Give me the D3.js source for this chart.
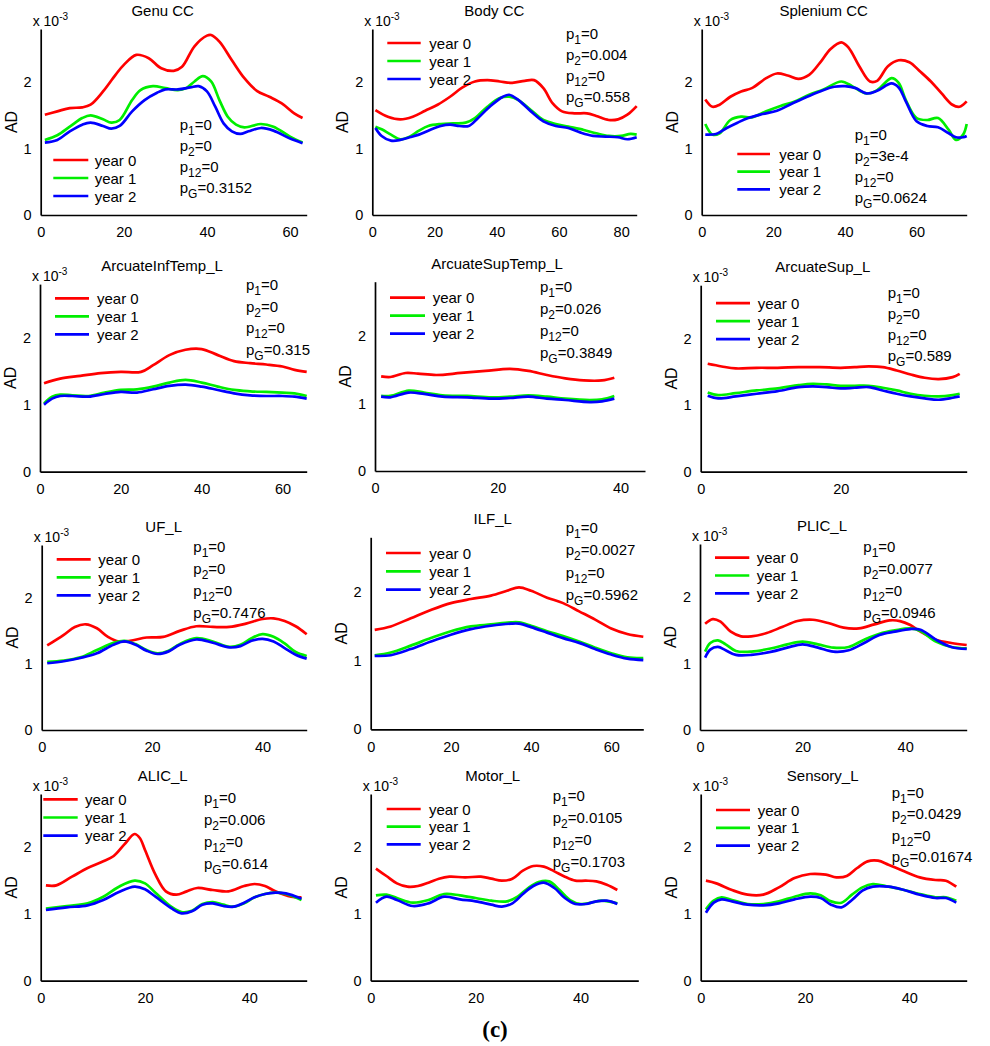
<!DOCTYPE html>
<html><head><meta charset="utf-8">
<script src="https://cdn.jsdelivr.net/npm/d3@7"></script>
<style>body{margin:0;background:#fff}svg{display:block}</style>
</head><body>
<svg id="chart" width="990" height="1046"></svg>
<script>
// ---------- DATA ----------
const titles = ["Genu CC","Body CC","Splenium CC","ArcuateInfTemp_L","ArcuateSupTemp_L","ArcuateSup_L","UF_L","ILF_L","PLIC_L","ALIC_L","Motor_L","Sensory_L"];
const seriesNames = ["year 0","year 1","year 2"];
const seriesColors = ["#ff0000","#00ee00","#0000ff"];
const yTicks = [0,1,2];
const xMaxes = [64,85,74,66,44,38,48,68,52,51,51,51];
const xTicksList = [[0,20,40,60],[0,20,40,60,80],[0,20,40,60],[0,20,40,60],[0,20,40],[0,20],[0,20,40],[0,20,40,60],[0,20,40],[0,20,40],[0,20,40],[0,20,40]];
const pSubs = ["1","2","12","G"];
const pValues = [
 ["0","0","0","0.3152"],["0","0.004","0","0.558"],["0","3e-4","0","0.0624"],
 ["0","0","0","0.315"],["0","0.026","0","0.3849"],["0","0","0","0.589"],
 ["0","0","0","0.7476"],["0","0.0027","0","0.5962"],["0","0.0077","0","0.0946"],
 ["0","0.006","0","0.614"],["0","0.0105","0","0.1703"],["0","0.0429","0","0.01674"]];
const showExponent = [true,true,true,true,false,true,true,false,true,true,true,true];

const genuY0=[[1,1.51],[4,1.56],[7,1.61],[10,1.62],[12,1.66],[15,1.86],[18,2.11],[20,2.26],[23,2.41],[26,2.36],[29,2.21],[32,2.17],[34,2.23],[37,2.54],[40,2.70],[41,2.71],[43,2.61],[46,2.33],[49,2.06],[52,1.87],[55,1.78],[58,1.68],[61,1.53],[63,1.46]];
const genuY1=[[1,1.13],[4,1.20],[7,1.33],[10,1.46],[12,1.50],[15,1.44],[17,1.39],[19,1.43],[22,1.73],[24,1.88],[27,1.94],[30,1.91],[33,1.88],[35,1.91],[37,2.01],[39,2.09],[41,2.01],[43,1.73],[45,1.48],[47,1.36],[49,1.32],[53,1.37],[56,1.33],[60,1.18],[63,1.09]];
const genuY2=[[1,1.09],[4,1.13],[7,1.26],[10,1.36],[12,1.39],[15,1.34],[17,1.30],[19,1.34],[22,1.56],[25,1.73],[28,1.84],[30,1.89],[33,1.89],[36,1.92],[38,1.94],[40,1.86],[42,1.63],[44,1.38],[46,1.26],[48,1.22],[50,1.26],[53,1.31],[56,1.27],[60,1.15],[63,1.08]];

const bodyY0=[[1,1.58],[5,1.48],[9,1.44],[13,1.48],[17,1.57],[21,1.66],[25,1.78],[29,1.92],[33,2.01],[37,2.03],[41,2.01],[45,1.99],[49,2.02],[52,2.03],[55,1.91],[58,1.68],[61,1.56],[65,1.53],[69,1.53],[72,1.49],[76,1.43],[79,1.44],[82,1.51],[85,1.64]];
const bodyY1=[[1,1.33],[3,1.29],[6,1.21],[9,1.14],[12,1.18],[15,1.27],[18,1.34],[22,1.37],[26,1.38],[30,1.39],[33,1.46],[37,1.63],[41,1.76],[44,1.78],[47,1.73],[51,1.58],[55,1.43],[59,1.37],[63,1.33],[68,1.28],[72,1.23],[76,1.19],[80,1.19],[83,1.22],[85,1.21]];
const bodyY2=[[1,1.31],[3,1.19],[6,1.12],[9,1.13],[12,1.17],[15,1.21],[18,1.27],[22,1.34],[25,1.36],[28,1.34],[31,1.34],[34,1.46],[38,1.64],[42,1.78],[44,1.81],[47,1.73],[51,1.56],[55,1.41],[59,1.34],[63,1.31],[67,1.24],[71,1.19],[75,1.18],[79,1.17],[82,1.14],[85,1.17]];

const splY0=[[1,1.74],[3,1.63],[5,1.66],[8,1.78],[11,1.86],[14,1.91],[18,2.06],[21,2.13],[24,2.10],[27,2.05],[30,2.11],[33,2.29],[36,2.50],[39,2.60],[41,2.52],[44,2.24],[47,2.01],[49,2.02],[52,2.24],[55,2.33],[58,2.30],[61,2.16],[64,2.01],[67,1.83],[70,1.66],[72,1.63],[74,1.71]];
const splY1=[[1,1.37],[3,1.21],[5,1.23],[8,1.43],[11,1.48],[14,1.47],[18,1.56],[22,1.64],[26,1.71],[30,1.81],[34,1.89],[39,2.01],[42,1.94],[46,1.83],[49,1.88],[53,2.06],[55,1.99],[57,1.73],[60,1.46],[63,1.43],[66,1.46],[69,1.28],[71,1.13],[73,1.21],[74,1.37]];
const splY2=[[1,1.21],[4,1.22],[7,1.31],[10,1.39],[13,1.46],[17,1.52],[21,1.57],[25,1.67],[29,1.77],[33,1.86],[37,1.93],[40,1.94],[43,1.91],[46,1.83],[49,1.87],[53,1.98],[55,1.92],[57,1.71],[60,1.41],[63,1.34],[66,1.32],[69,1.23],[71,1.17],[73,1.17],[74,1.19]];

const aitY0=[[1,1.32],[5,1.39],[10,1.43],[15,1.47],[20,1.49],[25,1.49],[28,1.59],[32,1.74],[36,1.82],[40,1.83],[44,1.74],[48,1.65],[52,1.62],[56,1.60],[60,1.57],[63,1.52],[66,1.49]];
const aitY1=[[1,1.02],[3,1.12],[5,1.15],[8,1.14],[12,1.13],[16,1.18],[20,1.22],[24,1.23],[28,1.27],[32,1.33],[36,1.37],[40,1.33],[44,1.27],[48,1.22],[52,1.20],[56,1.19],[60,1.18],[63,1.17],[66,1.13]];
const aitY2=[[1,1.00],[3,1.09],[5,1.13],[8,1.13],[12,1.12],[16,1.16],[20,1.19],[24,1.18],[28,1.23],[32,1.28],[36,1.30],[40,1.27],[44,1.22],[48,1.17],[52,1.14],[56,1.13],[60,1.13],[63,1.12],[66,1.09]];

const astY0=[[1,1.40],[2.5,1.39],[5,1.45],[7,1.44],[10,1.42],[14,1.45],[18,1.48],[22,1.51],[25,1.48],[28,1.42],[31,1.37],[34,1.34],[37,1.34],[39,1.38]];
const astY1=[[1,1.11],[2.5,1.11],[5.5,1.19],[8,1.16],[11,1.12],[15,1.11],[19,1.09],[22,1.10],[25,1.12],[28,1.10],[31,1.07],[35,1.05],[37,1.06],[39,1.11]];
const astY2=[[1,1.10],[2.5,1.09],[5.5,1.16],[8,1.14],[11,1.10],[15,1.09],[19,1.07],[22,1.08],[25,1.10],[28,1.07],[31,1.05],[35,1.02],[37,1.03],[39,1.07]];

const asY0=[[1,1.62],[3,1.58],[5,1.55],[8,1.56],[11,1.56],[14,1.57],[17,1.57],[20,1.56],[22,1.57],[24,1.58],[26,1.57],[28,1.52],[30,1.46],[32,1.41],[34,1.39],[36,1.42],[37,1.47]];
const asY1=[[1,1.19],[2.5,1.15],[5,1.18],[8,1.22],[11,1.25],[14,1.30],[16,1.32],[18,1.31],[20,1.29],[22,1.29],[24,1.29],[26,1.26],[28,1.22],[30,1.17],[32,1.14],[34,1.13],[36,1.15],[37,1.17]];
const asY2=[[1,1.14],[2.5,1.10],[5,1.13],[8,1.17],[11,1.21],[14,1.27],[16,1.28],[18,1.27],[20,1.25],[22,1.26],[24,1.27],[26,1.22],[28,1.17],[30,1.13],[32,1.10],[34,1.08],[36,1.11],[37,1.13]];

const ufY0=[[1,1.28],[4,1.44],[6,1.56],[8,1.60],[10,1.54],[12,1.41],[14,1.34],[16,1.35],[19,1.40],[22,1.41],[25,1.50],[28,1.57],[31,1.56],[34,1.56],[37,1.61],[40,1.68],[42,1.69],[44,1.65],[46,1.57],[48,1.45]];
const ufY1=[[1,1.03],[4,1.05],[7,1.10],[10,1.21],[13,1.32],[15,1.35],[17,1.30],[19,1.21],[21,1.16],[23,1.20],[25,1.30],[28,1.39],[31,1.34],[34,1.26],[36,1.29],[38,1.39],[40,1.45],[42,1.41],[44,1.31],[46,1.18],[48,1.12]];
const ufY2=[[1,1.01],[4,1.04],[7,1.09],[10,1.16],[13,1.29],[15,1.34],[17,1.29],[19,1.20],[21,1.15],[23,1.19],[25,1.29],[28,1.37],[31,1.32],[34,1.25],[36,1.27],[38,1.35],[40,1.38],[42,1.34],[44,1.24],[46,1.14],[48,1.08]];

const ilfY0=[[1,1.45],[5,1.50],[10,1.62],[15,1.74],[20,1.84],[25,1.90],[30,1.95],[34,2.02],[37,2.07],[40,2.02],[44,1.92],[48,1.84],[52,1.72],[56,1.60],[60,1.47],[64,1.39],[68,1.35]];
const ilfY1=[[1,1.08],[5,1.12],[10,1.22],[15,1.33],[20,1.43],[25,1.50],[30,1.53],[35,1.56],[37,1.56],[40,1.51],[44,1.43],[48,1.36],[52,1.28],[56,1.19],[60,1.11],[64,1.05],[68,1.04]];
const ilfY2=[[1,1.07],[5,1.08],[10,1.17],[15,1.28],[20,1.38],[25,1.46],[30,1.51],[35,1.54],[37,1.54],[40,1.49],[44,1.41],[48,1.33],[52,1.26],[56,1.17],[60,1.09],[64,1.03],[68,1.01]];

const plicY0=[[1,1.60],[2.5,1.67],[4,1.63],[6,1.48],[8,1.41],[10,1.41],[13,1.46],[16,1.55],[19,1.64],[22,1.66],[25,1.61],[28,1.54],[31,1.53],[34,1.59],[37,1.65],[39,1.64],[41,1.58],[43,1.48],[46,1.36],[49,1.31],[52,1.28]];
const plicY1=[[1,1.18],[2,1.31],[3.5,1.35],[5,1.29],[7,1.19],[10,1.18],[14,1.23],[17,1.29],[20,1.33],[23,1.29],[26,1.24],[29,1.25],[32,1.36],[35,1.45],[38,1.50],[41,1.53],[43,1.49],[46,1.33],[49,1.25],[52,1.23]];
const plicY2=[[1,1.09],[2,1.21],[3.5,1.25],[5,1.20],[7,1.13],[10,1.13],[14,1.18],[17,1.24],[20,1.29],[23,1.24],[26,1.18],[29,1.20],[32,1.31],[35,1.43],[38,1.48],[41,1.52],[43,1.51],[46,1.36],[49,1.25],[52,1.22]];

const alicY0=[[1,1.43],[3,1.43],[6,1.56],[9,1.69],[12,1.79],[14,1.87],[16,2.04],[18,2.20],[19,2.14],[20,1.96],[22,1.59],[24,1.34],[26,1.29],[28,1.34],[30,1.39],[33,1.36],[36,1.34],[39,1.42],[41,1.45],[43,1.42],[45,1.34],[48,1.26],[50,1.25]];
const alicY1=[[1,1.08],[5,1.12],[9,1.16],[12,1.26],[15,1.41],[18,1.50],[20,1.46],[22,1.32],[25,1.11],[27,1.03],[29,1.05],[31,1.15],[33,1.18],[35,1.14],[37,1.11],[39,1.16],[41,1.25],[43,1.30],[45,1.32],[47,1.30],[50,1.21]];
const alicY2=[[1,1.06],[5,1.10],[9,1.13],[12,1.21],[15,1.33],[18,1.41],[20,1.37],[22,1.26],[25,1.09],[27,1.01],[29,1.04],[31,1.14],[33,1.16],[35,1.12],[37,1.11],[39,1.17],[41,1.25],[43,1.30],[45,1.32],[47,1.31],[50,1.23]];

const motY0=[[1,1.68],[3,1.57],[5,1.46],[7,1.41],[9,1.42],[11,1.47],[13,1.53],[15,1.56],[18,1.55],[21,1.56],[23,1.53],[25,1.50],[27,1.53],[29,1.65],[31,1.72],[33,1.71],[35,1.64],[37,1.56],[39,1.50],[41,1.50],[43,1.49],[45,1.44],[47,1.36]];
const motY1=[[1,1.28],[3,1.29],[5,1.24],[8,1.17],[11,1.21],[14,1.30],[17,1.28],[20,1.24],[23,1.20],[26,1.19],[28,1.26],[30,1.39],[32,1.48],[34,1.49],[36,1.36],[38,1.21],[40,1.15],[42,1.17],[44,1.20],[47,1.16]];
const motY2=[[1,1.17],[3,1.26],[5,1.21],[8,1.12],[11,1.16],[14,1.26],[17,1.22],[20,1.19],[23,1.14],[25,1.11],[27,1.16],[29,1.30],[31,1.42],[33,1.47],[35,1.39],[37,1.24],[39,1.15],[41,1.15],[43,1.19],[45,1.20],[47,1.15]];

const senY0=[[1,1.50],[3,1.46],[6,1.36],[9,1.29],[12,1.29],[15,1.40],[18,1.54],[21,1.60],[24,1.59],[26,1.55],[28,1.57],[30,1.69],[32,1.79],[34,1.80],[36,1.74],[39,1.64],[42,1.55],[45,1.51],[47,1.50],[49,1.41]];
const senY1=[[1,1.07],[2.5,1.20],[4,1.25],[6,1.21],[9,1.15],[12,1.15],[15,1.19],[18,1.26],[21,1.31],[23,1.28],[25,1.19],[27,1.17],[29,1.29],[31,1.40],[33,1.45],[36,1.41],[39,1.36],[42,1.30],[45,1.25],[47,1.25],[49,1.20]];
const senY2=[[1,1.02],[2.5,1.17],[4,1.22],[6,1.19],[9,1.14],[12,1.13],[15,1.16],[18,1.22],[21,1.26],[23,1.24],[25,1.14],[27,1.10],[29,1.21],[31,1.35],[33,1.41],[36,1.41],[39,1.36],[42,1.29],[45,1.24],[47,1.24],[49,1.17]];

const panelSeries = [
 [genuY0,genuY1,genuY2],[bodyY0,bodyY1,bodyY2],[splY0,splY1,splY2],
 [aitY0,aitY1,aitY2],[astY0,astY1,astY2],[asY0,asY1,asY2],
 [ufY0,ufY1,ufY2],[ilfY0,ilfY1,ilfY2],[plicY0,plicY1,plicY2],
 [alicY0,alicY1,alicY2],[motY0,motY1,motY2],[senY0,senY1,senY2]];

// ---------- LAYOUT (pixels) ----------
// [left, bottom, width, height]
const frames = [
 [40.7,215,266,186],[372.3,215,264.4,186],[701.7,215,265,186],
 [40,471.7,266.7,187.6],[375,471,270,189.3],[700.7,471.7,266,186.5],
 [41.7,730,265,185],[370.7,729.3,272.6,192],[700,730,266.7,186],
 [40.7,980.7,266,186.7],[370.7,980.7,267.6,186.7],[700.7,980.7,266,186.7]];
// legend: [lineStartDx, lineEndDx, textDx, firstRowDyFromTop, rowGap]
const legendPos = [
 [12.6,47.6,54,131,18],[15,48.4,57,14,18],[35.6,68.3,77.6,125,17.7],
 [15,49,57,14.3,18],[15,50,57.7,16,18],[15.3,49.3,57,18,18],
 [15,49,56.6,14.3,18],[15.3,50,58.6,15.7,18.3],[15,49.3,56.7,13.7,17.8],
 [2.6,37,44.3,5.3,18.2],[16,50,58.3,15,17.7],[15.3,49.3,57,16,17.8]];
// p-values: [textDx, firstBaselineDyFromTop, rowGap]
const pPos = [
 [139,101,21],[193.7,9.5,21],[153,111,21],
 [206,6,21.5],[165,10,22],[187,13,21],
 [151.6,6.5,22],[195,-4.5,22.5],[163.3,8,22],
 [163.3,9,22],[182,6.5,22],[191,4,21.3]];

const FONT = "'Liberation Sans', Arial, Helvetica, sans-serif";
const svg = d3.select("#chart").style("font-family", FONT);

panelSeries.forEach((series, i) => {
  const [left, bottom, w, h] = frames[i];
  const top = bottom - h;
  const g = svg.append("g");
  const x = d3.scaleLinear().domain([0, xMaxes[i]]).range([left, left + w]);
  const y = d3.scaleLinear().domain([0, 2.8]).range([bottom, top]);

  const xAxis = g.append("g").attr("transform", `translate(0,${bottom})`)
    .call(d3.axisBottom(x).tickValues(xTicksList[i]).tickSize(0).tickSizeOuter(0).tickPadding(12).tickFormat(d3.format("d")));
  const yAxis = g.append("g").attr("transform", `translate(${left},0)`)
    .call(d3.axisLeft(y).tickValues(yTicks).tickSize(0).tickSizeOuter(0).tickPadding(9).tickFormat(d3.format("d")));
  [xAxis, yAxis].forEach(a => {
    a.select(".domain").attr("stroke", "#000").attr("stroke-width", 1.7);
    a.selectAll("text").attr("font-size", 14.5).attr("font-family", FONT).attr("fill", "#000");
  });

  const line = d3.line().x(d => x(d[0])).y(d => y(d[1])).curve(d3.curveCatmullRom.alpha(0.5));
  series.forEach((s, k) => {
    g.append("path").datum(s).attr("d", line).attr("fill", "none")
      .attr("stroke", seriesColors[k]).attr("stroke-width", 2.7).attr("stroke-linejoin", "round");
  });

  // title
  g.append("text").attr("x", left + 122).attr("y", top - 13).attr("text-anchor", "middle")
    .attr("font-size", 15).text(titles[i]);

  // AD label
  g.append("text").attr("transform", `translate(${left - 24},${(top + bottom) / 2}) rotate(-90)`)
    .attr("text-anchor", "middle").attr("font-size", 16).text("AD");

  // exponent label
  if (showExponent[i]) {
    const t = g.append("text").attr("x", left - 8).attr("y", top - 3).attr("font-size", 14);
    t.append("tspan").text("x 10");
    t.append("tspan").attr("dy", -6).attr("font-size", 10).text("-3");
  }

  // legend
  const [l0, l1, tx, ly, lg] = legendPos[i];
  seriesNames.forEach((n, k) => {
    const yy = top + ly + k * lg;
    g.append("line").attr("x1", left + l0).attr("x2", left + l1).attr("y1", yy).attr("y2", yy)
      .attr("stroke", seriesColors[k]).attr("stroke-width", 2.7);
    g.append("text").attr("x", left + tx).attr("y", yy + 5.5).attr("font-size", 15).text(n);
  });

  // p-values
  const [px, py, pg] = pPos[i];
  pSubs.forEach((sub, k) => {
    const t = g.append("text").attr("x", left + px).attr("y", top + py + k * pg).attr("font-size", 15);
    t.append("tspan").text("p");
    t.append("tspan").attr("dy", 5).attr("font-size", 12).text(sub);
    t.append("tspan").attr("dy", -5).text("=" + pValues[i][k]);
  });
});

svg.append("text").attr("x", 495).attr("y", 1037).attr("text-anchor", "middle")
  .attr("font-family", "'Liberation Serif', 'Times New Roman', serif").attr("font-weight", "bold")
  .attr("font-size", 23).text("(c)");
</script>
</body></html>
